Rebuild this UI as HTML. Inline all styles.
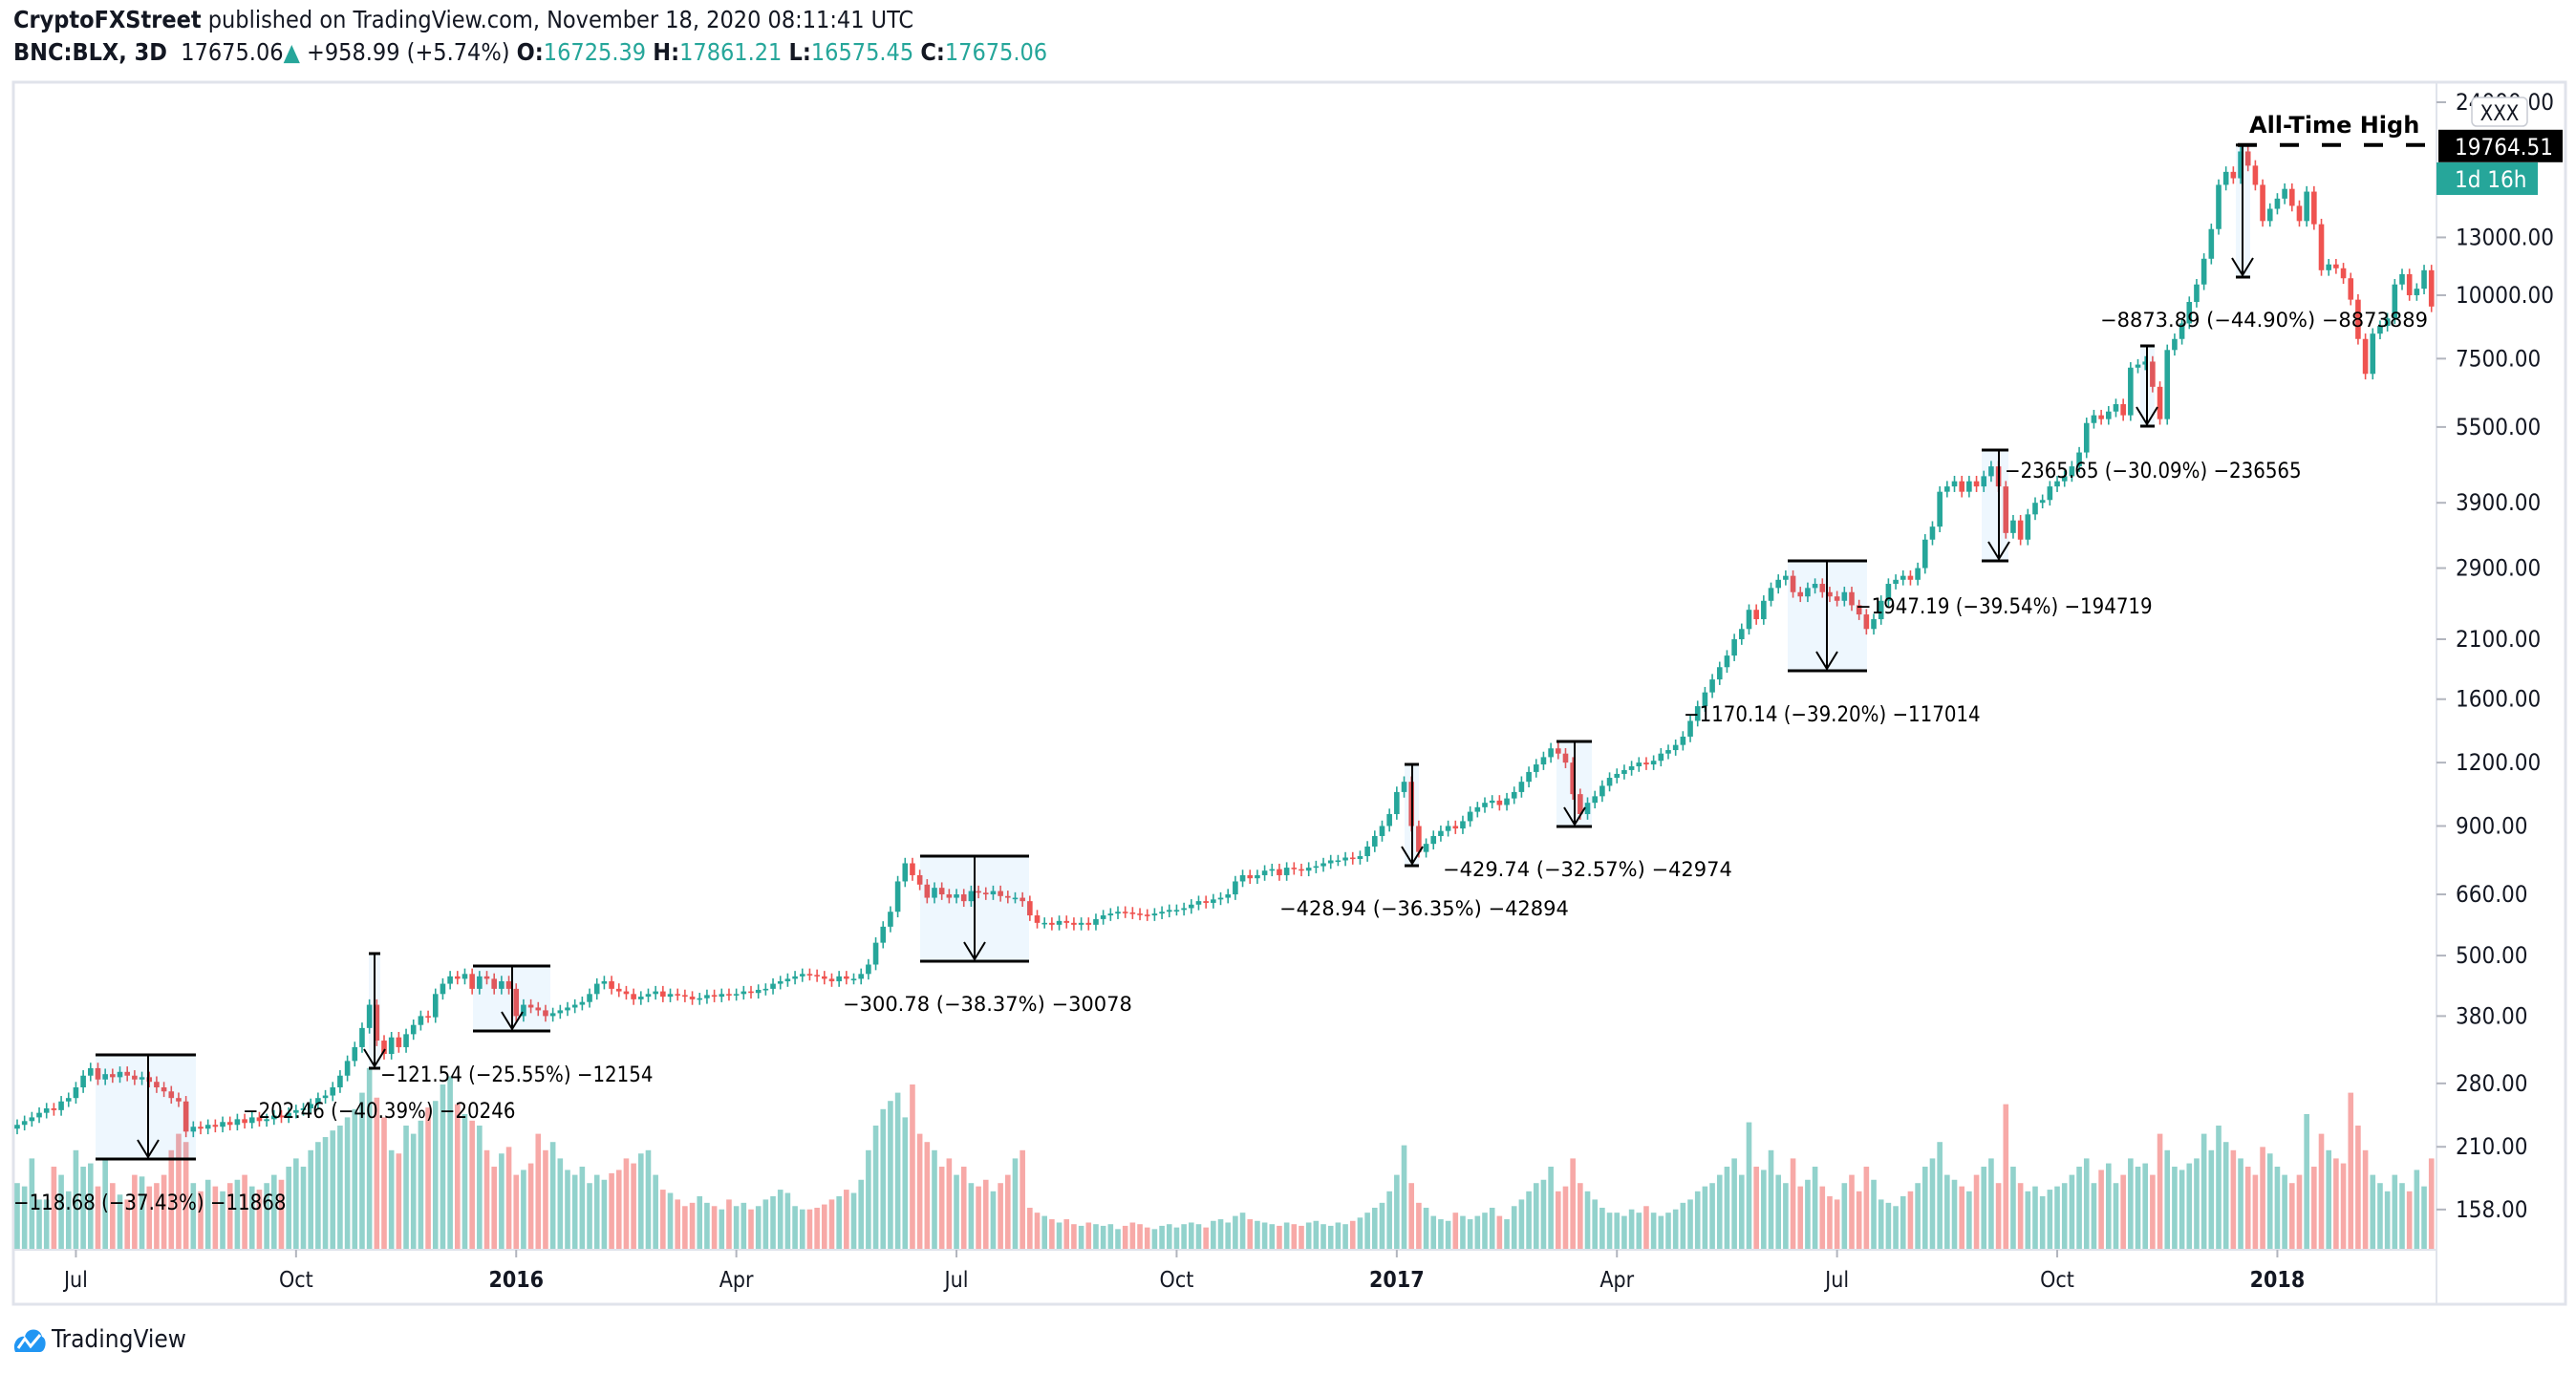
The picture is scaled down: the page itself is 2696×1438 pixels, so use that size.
<!DOCTYPE html>
<html><head><meta charset="utf-8"><title>BNC:BLX 3D chart</title>
<style>
html,body{margin:0;padding:0;background:#fff;}
body{width:2696px;height:1438px;overflow:hidden;position:relative;font-family:"DejaVu Sans Condensed","Liberation Sans",sans-serif;}
.hdr{position:absolute;left:14px;color:#131722;white-space:nowrap;}
.t{color:#26a69a}
svg text{font-family:"DejaVu Sans Condensed","Liberation Sans",sans-serif;}
</style></head>
<body>
<div class="hdr" style="top:6px;font-size:25px;"><b>CryptoFXStreet</b> published on TradingView.com, November 18, 2020 08:11:41 UTC</div>
<div class="hdr" style="top:40px;font-size:25px;"><b>BNC:BLX, 3D</b>&nbsp; 17675.06<span class="t">▲</span> +958.99 (+5.74%) <b>O:</b><span class="t">16725.39</span> <b>H:</b><span class="t">17861.21</span> <b>L:</b><span class="t">16575.45</span> <b>C:</b><span class="t">17675.06</span></div>

<svg id="chart" width="2696" height="1438" style="position:absolute;left:0;top:0" xmlns="http://www.w3.org/2000/svg">
<rect x="14" y="86" width="2671" height="1279" fill="none" stroke="#e0e3eb" stroke-width="3"/>
<line x1="2550" y1="86" x2="2550" y2="1365" stroke="#e0e3eb" stroke-width="2"/>
<line x1="14" y1="1308" x2="2550" y2="1308" stroke="#e0e3eb" stroke-width="2"/>
<g id="vol"></g>
<g id="candles"></g>
<g id="yaxis"></g>
<g id="xaxis"></g>
<g id="ann"></g>
</svg>

<div style="position:absolute;left:14px;top:1384px;height:36px;display:flex;align-items:center;">
<svg width="34" height="30" viewBox="0 0 34 30"><path d="M2 28 C-2 18 6 10 12 12 C14 2 28 2 30 12 C36 14 34 28 28 28 Z" fill="#2196f3"/><polyline points="5,24 12,14 18,22 28,10" fill="none" stroke="#fff" stroke-width="3"/></svg>
<span style="font-size:26px;color:#131722;margin-left:6px;">TradingView</span></div>

<script>
const closes = [
232,236,240,245,250,248,258,262,
275,290,300,285,292,288,295,290,285,288,
282,275,270,262,258,225,230,228,232,230,
235,232,238,234,240,236,238,242,240,245,
248,250,255,262,265,275,290,310,330,360,
400,340,320,345,330,350,365,380,378,420,
440,455,450,460,430,455,450,430,445,430,
380,400,395,390,380,385,390,395,400,405,
420,440,445,430,425,420,410,415,420,425,
415,420,418,415,410,412,418,415,420,418,
420,425,422,428,430,440,445,450,455,460,
458,455,450,445,455,450,450,460,480,530,
570,610,700,760,720,690,650,680,660,650,
660,640,670,665,660,670,655,650,650,640,
600,580,580,575,585,580,575,580,575,590,
600,605,610,608,605,602,600,605,610,615,
615,620,630,640,635,645,650,660,700,720,
710,720,735,740,720,745,740,735,745,750,
760,770,770,780,775,785,820,860,900,950,
1050,1100,900,800,830,860,880,900,890,920,
960,980,1000,1010,990,1020,1050,1100,1150,1190,
1230,1280,1250,1200,1040,950,1000,1030,1080,1120,
1140,1160,1180,1200,1190,1210,1250,1270,1300,1350,
1450,1550,1650,1750,1850,1950,2100,2200,2400,2300,
2500,2650,2750,2800,2600,2550,2650,2700,2600,2550,
2500,2600,2450,2350,2200,2300,2500,2700,2750,2800,
2750,2900,3300,3500,4100,4200,4300,4100,4300,4200,
4400,4600,4200,3400,3600,3300,3700,3900,3950,4200,
4300,4400,4600,4900,5600,5800,5700,5900,6100,5800,
7200,7300,7400,6600,5700,7800,8200,8800,9700,10500,
11800,13500,16500,17500,17000,19200,18000,16500,14000,14800,
15500,16200,15000,14000,16000,13800,11200,11500,11300,10800,
9800,8200,7000,8400,8700,9000,10500,11000,10000,10300,
11200,9500];
const firstOpen = 228;
const volumes = [
40,38,55,30,30,50,45,35,
60,50,52,38,55,40,33,30,45,44,
38,40,45,60,70,65,40,35,42,38,
35,40,42,45,38,36,40,45,42,50,
55,50,60,65,68,72,75,80,85,95,
110,92,80,60,58,75,70,78,86,90,
100,105,88,82,78,75,60,50,58,62,
45,48,52,70,60,65,55,48,45,50,
40,45,42,46,48,55,52,58,60,45,
36,34,30,26,28,32,28,26,24,30,
26,28,24,26,30,32,36,34,26,24,
24,25,27,30,32,36,34,42,60,75,
85,90,95,80,100,70,65,60,50,55,
45,50,40,38,42,35,40,45,55,60,
25,22,20,18,16,18,15,14,16,15,
14,15,12,14,16,15,13,12,14,15,
13,15,16,15,13,17,18,16,20,22,
18,17,16,15,14,16,15,14,16,17,
15,14,16,15,17,19,22,25,28,35,
45,63,40,28,25,20,18,17,22,20,
18,20,22,25,20,18,26,30,35,40,
42,50,35,38,55,40,35,30,25,22,
22,20,24,22,26,22,20,22,24,28,
30,35,38,40,45,50,55,45,77,50,
48,60,45,40,55,38,42,50,38,32,
30,40,45,35,50,42,30,28,26,32,
35,40,50,55,65,45,42,38,35,45,
50,55,40,88,50,40,35,38,32,36,
38,40,45,50,55,40,48,52,40,45,
55,50,52,45,70,60,50,48,52,55,
70,60,75,65,60,55,50,45,62,58,
50,45,40,45,82,50,70,60,55,52,
95,75,60,45,40,35,45,40,35,48,
38,55];
const priceTicks = [24000,13000,10000,7500,5500,3900,2900,2100,1600,1200,900,660,500,380,280,210,158];
const priceTickLabels = ["24000.00","13000.00","10000.00","7500.00","5500.00","3900.00","2900.00","2100.00","1600.00","1200.00","900.00","660.00","500.00","380.00","280.00","210.00","158.00"];
const timeTickIndex = [8,38,68,98,128,158,188,218,248,278,308];
const timeTickLabels = ["Jul","Oct","2016","Apr","Jul","Oct","2017","Apr","Jul","Oct","2018"];
const athValue = 19764.51;

const NS="http://www.w3.org/2000/svg";
function xS(i){return 18+i*7.68;}
function yS(v){return 107+(Math.log(24000)-Math.log(v))*230.7;}
function vS(v){return v*1.72;}
function mk(tag,attrs,parent){const e=document.createElementNS(NS,tag);for(const k in attrs)e.setAttribute(k,attrs[k]);parent.appendChild(e);return e;}

const gv=document.getElementById('vol'), gc=document.getElementById('candles');
for(let i=0;i<closes.length;i++){
  const o=i===0?firstOpen:closes[i-1], c=closes[i], up=c>=o;
  const x=xS(i);
  const h=vS(volumes[i]);
  const vb=mk('rect',{x:x-2.8,y:1307-h,width:5.6,height:h,fill:up?'#92d2cc':'#f7a9a7'},gv);
  
  
  const col=up?'#26a69a':'#ef5350';
  const hi=Math.max(o,c)*1.025, lo=Math.min(o,c)*0.975;
  const w=mk('line',{x1:x,x2:x,y1:yS(hi),y2:yS(lo),stroke:col,'stroke-width':1.6},gc);
  
  
  const yt=yS(Math.max(o,c)), yb=yS(Math.min(o,c));
  const b=mk('rect',{x:x-2.8,y:yt,width:5.6,height:Math.max(1.6,yb-yt),fill:col},gc);
  
  
}
const gy=document.getElementById('yaxis');
priceTicks.forEach((v,k)=>{
  const y=yS(v);
  mk('line',{x1:2550,x2:2560,y1:y,y2:y,stroke:'#b2b5be','stroke-width':2},gy);
  const t=mk('text',{x:2570,y:y+8,'font-size':24,fill:'#131722'},gy);
  t.textContent=priceTickLabels[k];
  
  
});
const gx=document.getElementById('xaxis');
timeTickIndex.forEach((ix,k)=>{
  const x=xS(ix);
  mk('line',{x1:x,x2:x,y1:1308,y2:1316,stroke:'#b2b5be','stroke-width':2},gx);
  const bold=/^\d{4}$/.test(timeTickLabels[k]);
  const t=mk('text',{x:x,y:1347,'font-size':23,'text-anchor':'middle',fill:'#131722','font-weight':bold?'bold':'normal'},gx);
  t.textContent=timeTickLabels[k];
  
  
});

const ga=document.getElementById('ann');
function measure(x1,x2,y1,y2,ax){
  const r=mk('rect',{x:x1,y:y1,width:x2-x1,height:y2-y1,fill:'rgba(33,150,243,0.08)'},ga);
  
  
  mk('line',{x1:x1,x2:x2,y1:y1,y2:y1,stroke:'#000','stroke-width':3},ga);
  mk('line',{x1:x1,x2:x2,y1:y2,y2:y2,stroke:'#000','stroke-width':3},ga);
  mk('line',{x1:ax,x2:ax,y1:y1,y2:y2,stroke:'#000','stroke-width':2},ga);
  mk('polyline',{points:`${ax-11},${y2-20} ${ax},${y2-2} ${ax+11},${y2-20}`,fill:'none',stroke:'#000','stroke-width':2},ga);
}
function label(x,y,s,cond){
  const t=mk('text',{x:x,y:y,'font-size':22,fill:'#000'},ga);
  if(!cond)t.setAttribute('style','font-family:"DejaVu Sans","Liberation Sans",sans-serif;font-size:21px');
  t.textContent=s;
  
  
}
measure(100,205,1104,1213,155);
label(14,1266,"−118.68 (−37.43%) −11868",true);
label(254,1170,"−202.46 (−40.39%) −20246",true);
measure(386,398,998,1118,392);
label(398,1132,"−121.54 (−25.55%) −12154",true);
measure(495,576,1011,1079,536);
measure(963,1077,896,1006,1020);
label(882,1058,"−300.78 (−38.37%) −30078",false);
label(1339,958,"−428.94 (−36.35%) −42894",false);
measure(1470,1485,800,906,1478);
label(1510,917,"−429.74 (−32.57%) −42974",false);
measure(1629,1666,776,865,1648);
label(1762,755,"−1170.14 (−39.20%) −117014",true);
measure(1871,1954,587,702,1912);
label(1942,642,"−1947.19 (−39.54%) −194719",true);
measure(2074,2102,471,587,2092);
label(2098,500,"−2365.65 (−30.09%) −236565",true);
measure(2240,2255,362,446,2247);
label(2198,342,"−8873.89 (−44.90%) −8873889",false);
const ya=yS(athValue);
measure(2340,2355,ya,290,2347);
const dl=mk('line',{x1:2342,x2:2550,y1:ya,y2:ya,stroke:'#000','stroke-width':4,'stroke-dasharray':'20,24'},ga);


const at=mk('text',{x:2354,y:139,'font-size':24,'font-weight':'bold',fill:'#000',style:'font-family:"DejaVu Sans","Liberation Sans",sans-serif'},ga);
at.textContent="All-Time High";


const pb=mk('rect',{x:2552,y:ya-16,width:130,height:34,fill:'#000'},ga);


const pt=mk('text',{x:2569,y:ya+10,'font-size':24,fill:'#fff'},ga);pt.textContent="19764.51";
const cb=mk('rect',{x:2550,y:170,width:106,height:34,fill:'#26a69a'},ga);


const ct=mk('text',{x:2569,y:196,'font-size':24,fill:'#fff'},ga);ct.textContent="1d 16h";
const xb=mk('rect',{x:2587,y:102,width:58,height:30,rx:5,fill:'#fff',stroke:'#c8cbd3','stroke-width':1.5},ga);


const xt=mk('text',{x:2616,y:126,'font-size':22,fill:'#131722','text-anchor':'middle'},ga);xt.textContent="XXX";
</script>
</body></html>
